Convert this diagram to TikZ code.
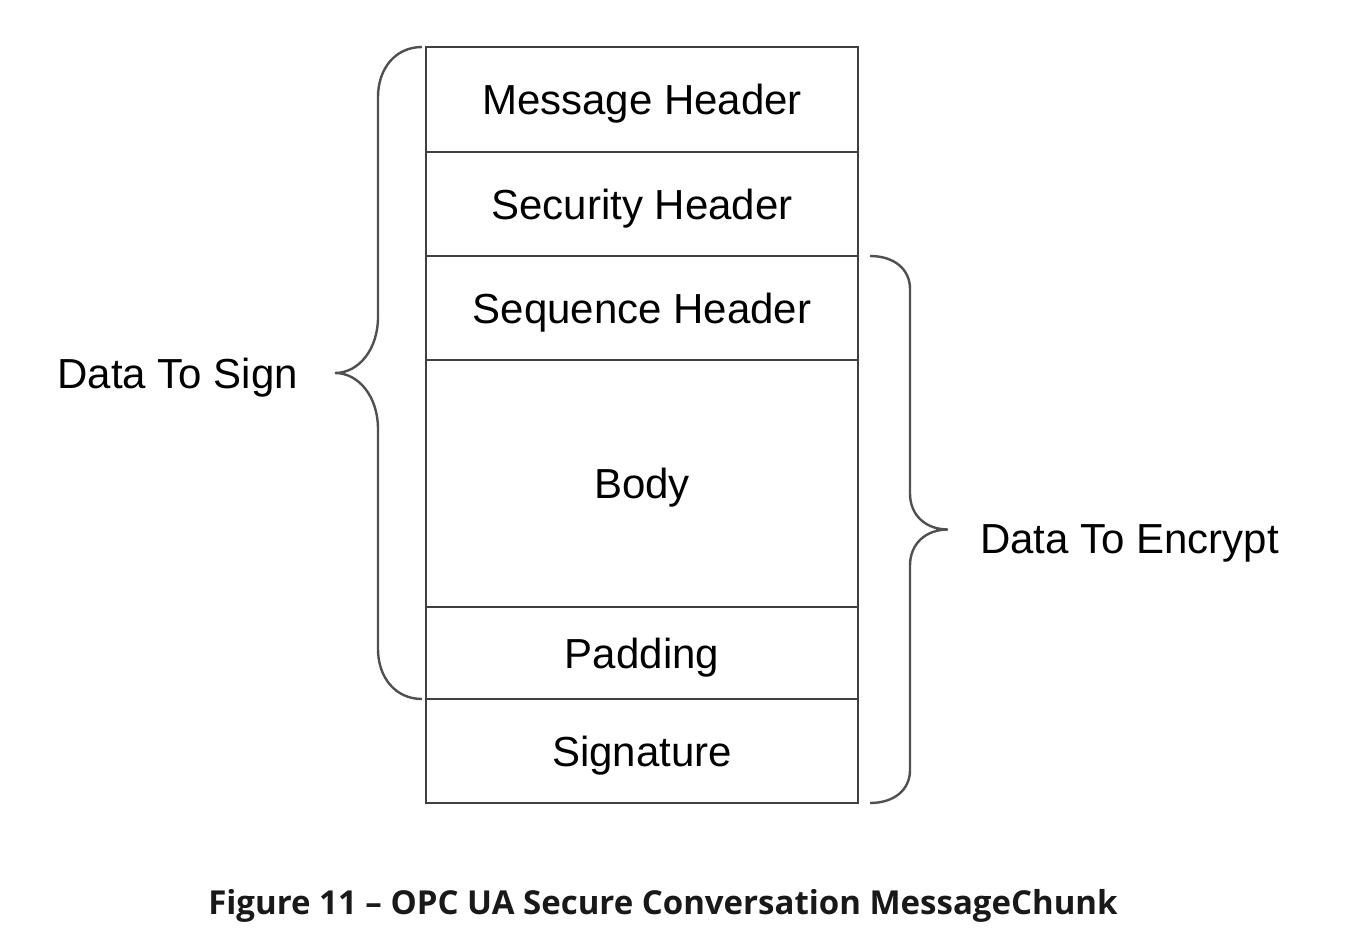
\documentclass[tikz,border=0pt]{standalone}
\usepackage{fontspec}
\setmainfont{Liberation Sans}
\newfontfamily\capfont{Open Sans}
\usetikzlibrary{positioning,calc}
\definecolor{boxline}{HTML}{404040}
\definecolor{braceline}{HTML}{505050}
\tikzset{
field/.style={draw=boxline, line width=2pt, minimum width=432pt, inner sep=0pt, outer sep=0pt, text depth=0pt, font=\fontsize{42}{50}\selectfont},
brace/.style={draw=braceline, line width=2.4pt},
side/.style={inner sep=0pt, text depth=0pt, font=\fontsize{42}{50}\selectfont}
}
\begin{document}
\begin{tikzpicture}[x=1pt,y=-1pt]
\useasboundingbox (0,0) rectangle (1358,947);

\node[field, minimum height=105pt] (msg) at (642,99.5) {Message Header};
\node[field, minimum height=104pt, below=0pt of msg] (sec) {Security Header};
\node[field, minimum height=104pt, below=0pt of sec] (seq) {Sequence Header};
\node[field, minimum height=247pt, below=0pt of seq] (body) {Body};
\node[field, minimum height=92pt, below=0pt of body] (pad) {Padding};
\node[field, minimum height=104pt, below=0pt of pad] (sig) {Signature};

\coordinate (sgnT) at ($(msg.north west)+(-4,0)$);
\coordinate (sgnB) at ($(pad.south west)+(-4,0)$);
\coordinate (sgnM) at ($(sgnT)!.5!(sgnB)+(-87,0)$);
\draw[brace] (sgnT) .. controls +(-27,0) and +(0,-28) .. ($(sgnT)+(-44,50)$)
  -- ($(sgnM)+(43,-56)$) .. controls +(0,32) and +(24,0) .. (sgnM)
  .. controls +(24,0) and +(0,-32) .. ($(sgnM)+(43,56)$)
  -- ($(sgnB)+(-44,-50)$) .. controls +(0,28) and +(-27,0) .. (sgnB);

\coordinate (encT) at ($(seq.north east)+(12,0)$);
\coordinate (encB) at ($(sig.south east)+(12,0)$);
\coordinate (encM) at ($(encT)!.5!(encB)+(78,0)$);
\draw[brace] (encT) .. controls +(24,0) and +(0,-20) .. ($(encT)+(40,33)$)
  -- ($(encM)+(-38,-36)$) .. controls +(0,22) and +(-22,0) .. (encM)
  .. controls +(-22,0) and +(0,-22) .. ($(encM)+(-38,36)$)
  -- ($(encB)+(40,-33)$) .. controls +(0,20) and +(24,0) .. (encB);

\node[side, left=37pt of sgnM] (sgn) {Data To Sign};
\node[side, right=32pt of encM, yshift=-10pt] (enc) {Data To Encrypt};

\node[font=\capfont\bfseries\fontsize{33}{40}\selectfont, text=black!90] (cap) at (663,906) {Figure 11 – OPC UA Secure Conversation MessageChunk};
\end{tikzpicture}
\end{document}
